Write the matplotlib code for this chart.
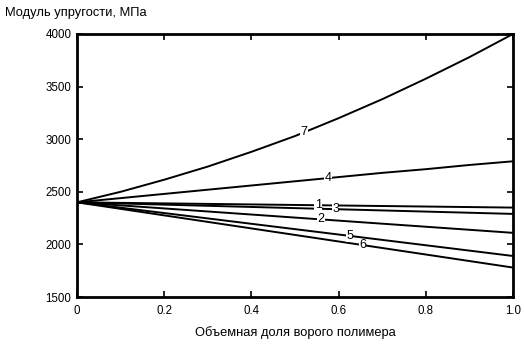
import matplotlib
matplotlib.use("Agg")
import matplotlib.pyplot as plt
import numpy as np

plt.rcParams['font.family'] = ['Liberation Sans', 'DejaVu Sans']

x = [0.0, 0.1, 0.2, 0.3, 0.4, 0.5, 0.6, 0.7, 0.8, 0.9, 1.0]
curve_7 = [2400, 2500, 2615, 2740, 2880, 3030, 3200, 3380, 3575, 3780, 4000]
curve_4 = [2400, 2440, 2480, 2520, 2560, 2600, 2640, 2680, 2715, 2755, 2790]
curve_1 = [2400, 2395, 2390, 2385, 2380, 2375, 2370, 2365, 2360, 2355, 2350]
curve_3 = [2400, 2389, 2378, 2367, 2356, 2345, 2334, 2323, 2312, 2301, 2290]
curve_2 = [2400, 2371, 2342, 2313, 2284, 2255, 2226, 2197, 2168, 2139, 2110]
curve_5 = [2400, 2349, 2298, 2247, 2196, 2145, 2094, 2043, 1992, 1941, 1890]
curve_6 = [2400, 2338, 2276, 2214, 2152, 2090, 2028, 1966, 1904, 1842, 1780]

series = [("7", curve_7), ("4", curve_4), ("1", curve_1), ("3", curve_3),
          ("2", curve_2), ("5", curve_5), ("6", curve_6)]
label_pos = {"7": 0.52, "4": 0.575, "1": 0.553, "3": 0.593, "2": 0.56, "5": 0.625, "6": 0.655}

xticks = [0, 0.2, 0.4, 0.6, 0.8, 1.0]
xticklabels = ["0", "0.2", "0.4", "0.6", "0.8", "1.0"]
yticks = [1500, 2000, 2500, 3000, 3500, 4000]

fig = plt.figure(figsize=(5.24, 3.53), dpi=100)
ax = fig.add_axes([0.147, 0.1586, 0.832, 0.7451])

for name, vals in series:
    ax.plot(x, vals, color='black', lw=1.4, zorder=2)

for name, vals in series:
    xp = label_pos[name]
    yp = np.interp(xp, x, vals)
    ax.text(xp, yp, name, fontsize=9, ha='center', va='center', zorder=3,
            bbox=dict(facecolor='white', edgecolor='none', pad=0.3))

ax.set_xlim(0, 1)
ax.set_ylim(1500, 4000)
ax.set_xticks(xticks)
ax.set_xticklabels(xticklabels)
ax.set_yticks(yticks)
ax.tick_params(direction='in', top=True, right=True, length=4, width=1.2,
               labelsize=8.3, colors='black')
ax.tick_params(axis='x', pad=6)
ax.tick_params(axis='y', pad=4)
for s in ax.spines.values():
    s.set_linewidth(2)

fig.text(0.01, 0.963, "Модуль упругости, МПа", fontsize=9.3, ha='left', va='center')
fig.text(0.563, 0.057, "Объемная доля ворого полимера", fontsize=9.3, ha='center', va='center')

fig.savefig("out.png", dpi=100)
